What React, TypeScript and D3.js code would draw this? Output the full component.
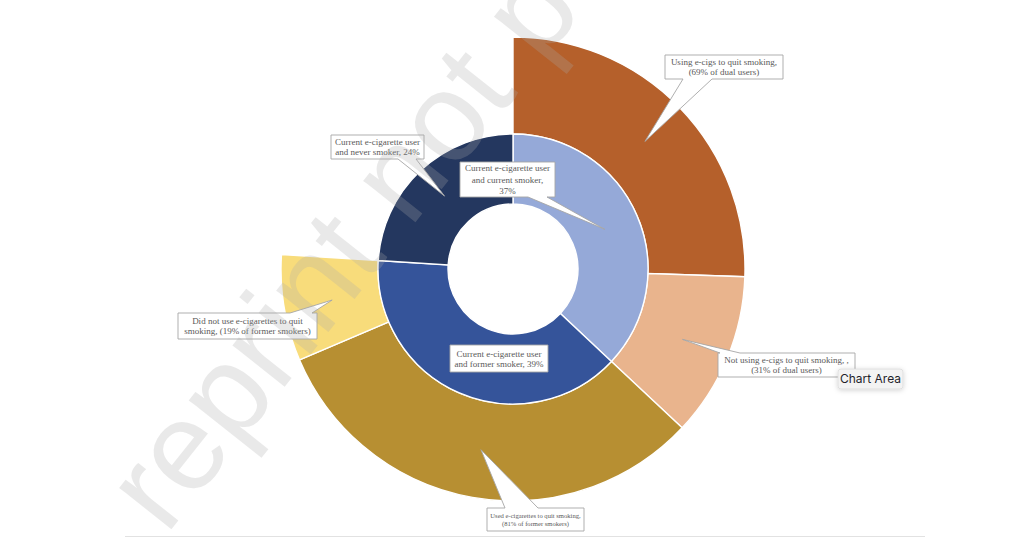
import { arc, pie, scaleLinear } from "d3";

const width = 1024;
const height = 538;
const cx = 513;
const cy = 269;
const rHole = 65;
const rMid = 135;
const rOuter = 232;

// inner ring: current e-cigarette users by smoking status (% of users)
const groupNames = ["current smoker", "former smoker", "never smoker"];
const groupShares = [37, 39, 24];
const groupLabels = [
  ["Current e-cigarette user", "and current smoker,", "37%"],
  ["Current e-cigarette user", "and former smoker, 39%"],
  ["Current e-cigarette user", "and never smoker, 24%"],
];
const groupColors = ["#95a9d8", "#35549a", "#24375f"];

// outer ring: use of e-cigs to quit, as share of the parent group
const subParent = ["current smoker", "current smoker", "former smoker", "former smoker"];
const subShares = [69, 31, 81, 19];
const subLabels = [
  ["Using e-cigs to quit smoking,", "(69% of dual users)"],
  ["Not using e-cigs to quit smoking, ,", "(31% of dual users)"],
  ["Used e-cigarettes to quit smoking,", "(81% of former smokers)"],
  ["Did not use e-cigarettes to quit", "smoking, (19% of former smokers)"],
];
const subColors = ["#b5602b", "#e9b48d", "#b78f32", "#f8dc7b"];

type Side = "top" | "bottom" | "left" | "right" | "none";
type Box = { x: number; y: number; w: number; h: number; side: Side; a: number; b: number; fs: number; lh: number };

// callout box placement (layout only)
const groupBoxes: Box[] = [
  { x: 460, y: 162, w: 95, h: 35, side: "bottom", a: 528, b: 547, fs: 9, lh: 11.2 },
  { x: 450, y: 345, w: 98, h: 27, side: "none", a: 0, b: 0, fs: 9, lh: 10 },
  { x: 331, y: 135, w: 93, h: 24, side: "bottom", a: 398, b: 416, fs: 9, lh: 10.5 },
];
const subBoxes: Box[] = [
  { x: 665, y: 55, w: 118, h: 24, side: "bottom", a: 683, b: 712, fs: 9, lh: 10.5 },
  { x: 718, y: 353, w: 137, h: 24, side: "top", a: 720, b: 740, fs: 9, lh: 10.5 },
  { x: 487, y: 508, w: 97, h: 23, side: "top", a: 505, b: 538, fs: 6.6, lh: 8 },
  { x: 178, y: 313, w: 139, h: 26, side: "top", a: 290, b: 312, fs: 9, lh: 10.5 },
];

const calloutPath = (bx: Box, tip: [number, number]) => {
  const { x, y, w, h, side, a, b } = bx;
  const x1 = x + w;
  const y1 = y + h;
  const pts: [number, number][] = [[x, y]];
  if (side === "top") pts.push([a, y], tip, [b, y]);
  pts.push([x1, y]);
  if (side === "right") pts.push([x1, a], tip, [x1, b]);
  pts.push([x1, y1]);
  if (side === "bottom") pts.push([b, y1], tip, [a, y1]);
  pts.push([x, y1]);
  if (side === "left") pts.push([x, b], tip, [x, a]);
  return "M" + pts.map((p) => p.join(",")).join("L") + "Z";
};

const Callout = ({ bx, tip, lines }: { bx: Box; tip: [number, number]; lines: string[] }) => {
  const top = bx.y + bx.h / 2 - ((lines.length - 1) * bx.lh) / 2 + bx.fs * 0.35;
  return (
    <g>
      <path d={calloutPath(bx, tip)} fill="#fff" stroke="#a6a6a6" strokeWidth={0.9} />
      {lines.map((l, i) => (
        <text
          key={i}
          x={bx.x + bx.w / 2}
          y={top + i * bx.lh}
          textAnchor="middle"
          fontFamily="'Liberation Serif', serif"
          fontSize={bx.fs}
          fill="#595959"
        >
          {l}
        </text>
      ))}
    </g>
  );
};

const App = () => {
  const innerArc = arc<any>().innerRadius(rHole).outerRadius(rMid);
  const outerArc = arc<any>().innerRadius(rMid).outerRadius(rOuter);

  const inner = pie<number>().sort(null).value((d) => d)(groupShares);

  // split each parent slice by the children's shares
  const outer = subShares.map((s, i) => {
    const gi = groupNames.indexOf(subParent[i]);
    const g = inner[gi];
    const sc = scaleLinear().domain([0, 100]).range([g.startAngle, g.endAngle]);
    const before = subShares
      .slice(0, i)
      .filter((_, j) => subParent[j] === subParent[i])
      .reduce((acc, v) => acc + v, 0);
    return { startAngle: sc(before), endAngle: sc(before + s) };
  });

  const tipOf = (gen: any, d: any): [number, number] => {
    const [x, y] = gen.centroid(d);
    return [cx + x, cy + y];
  };

  return (
    <svg
      width={width}
      height={height}
      style={{ position: "absolute", left: 0, top: 0, background: "#fff" }}
    >
      <defs>
        <filter id="shadow" x="-50%" y="-80%" width="200%" height="260%">
          <feDropShadow dx="0" dy="1" stdDeviation="2.5" floodColor="#000" floodOpacity="0.18" />
        </filter>
      </defs>

      <g transform={`translate(${cx},${cy})`}>
        {outer.map((d, i) => (
          <path key={i} d={outerArc(d) as string} fill={subColors[i]} stroke="#fff" strokeWidth={1.4} />
        ))}
        {inner.map((d, i) => (
          <path key={i} d={innerArc(d) as string} fill={groupColors[i]} stroke="#fff" strokeWidth={1.4} />
        ))}
      </g>

      {outer.map((d, i) => (
        <Callout key={"s" + i} bx={subBoxes[i]} tip={tipOf(outerArc, d)} lines={subLabels[i]} />
      ))}
      {inner.map((d, i) => (
        <Callout key={"g" + i} bx={groupBoxes[i]} tip={tipOf(innerArc, d)} lines={groupLabels[i]} />
      ))}

      {/* watermark */}
      <text
        transform="translate(166,536) rotate(-51.5)"
        fontFamily="'Liberation Sans', Arial, sans-serif"
        fontSize={126}
        fill="rgba(170,170,170,0.26)"
      >
        reprint not permitted
      </text>

      <line x1={125} x2={925} y1={536.5} y2={536.5} stroke="#e2e2e2" strokeWidth={1} />

      <g filter="url(#shadow)">
        <rect x={838} y={369} width={65} height={20} rx={3} fill="#f3f3f3" stroke="#d4d4d4" strokeWidth={0.6} />
      </g>
      <text x={870.5} y={383.3} textAnchor="middle" fontFamily="Inter, Roboto, sans-serif" fontSize={12} fill="#1f1f2b">
        Chart Area
      </text>
    </svg>
  );
};

export default App;
